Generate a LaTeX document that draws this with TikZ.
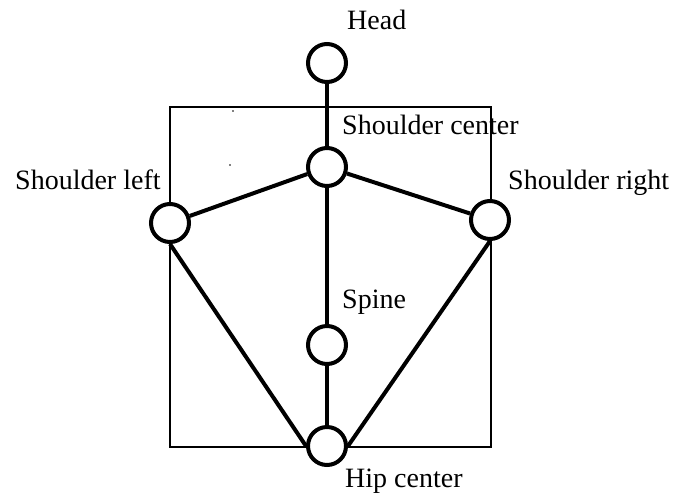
\documentclass[tikz,border=0pt]{standalone}
\usepackage{fontspec}
\setmainfont{Liberation Serif}
\begin{document}
\begin{tikzpicture}[x=1pt,y=-1pt,
  joint/.style={circle,draw=black,line width=4pt,minimum size=38pt,inner sep=0pt,fill=white},
  bone/.style={line width=4pt,black},
  lbl/.style={anchor=base west,inner sep=0pt,font=\fontsize{28}{32}\selectfont},
  frame/.style={draw=black,line width=1.3pt}]
  \useasboundingbox (0,0) rectangle (674,496);
  \fill[white] (0,0) rectangle (674,496);
  % bounding frame of the torso
  \draw[frame] (170,107) rectangle (491,447);
  % stray specks
  \fill (233,111) circle (0.9pt);
  \fill (230,165) circle (0.9pt);
  % skeleton bones
  \coordinate (phead) at (327,63);
  \coordinate (psc) at (327,167);
  \coordinate (psl) at (170,223);
  \coordinate (psr) at (490,220);
  \coordinate (pspine) at (327,345);
  \coordinate (phip) at (327,446);
  \node[joint] (head) at (phead) {};
  \node[joint] (sc) at (psc) {};
  \node[joint] (sl) at (psl) {};
  \node[joint] (sr) at (psr) {};
  \node[joint] (spine) at (pspine) {};
  \node[joint] (hip) at (phip) {};
  \draw[bone] (head) -- (sc);
  \draw[bone] (sc) -- (sl);
  \draw[bone] (sc) -- (sr);
  \draw[bone] (sc) -- (spine);
  \draw[bone] (spine) -- (hip);
  \draw[bone] (sl.south) -- (hip.west);
  \draw[bone] (sr.south) -- (hip.east);
  % joint labels
  \node[lbl] (thead) at (347,29) {Head};
  \node[lbl] (tsc) at (342,134) {Shoulder center};
  \node[lbl] (tsl) at (15,189) {Shoulder left};
  \node[lbl] (tsr) at (508,189) {Shoulder right};
  \node[lbl] (tspine) at (342,308) {Spine};
  \node[lbl] (thip) at (345,487) {Hip center};
\end{tikzpicture}
\end{document}
